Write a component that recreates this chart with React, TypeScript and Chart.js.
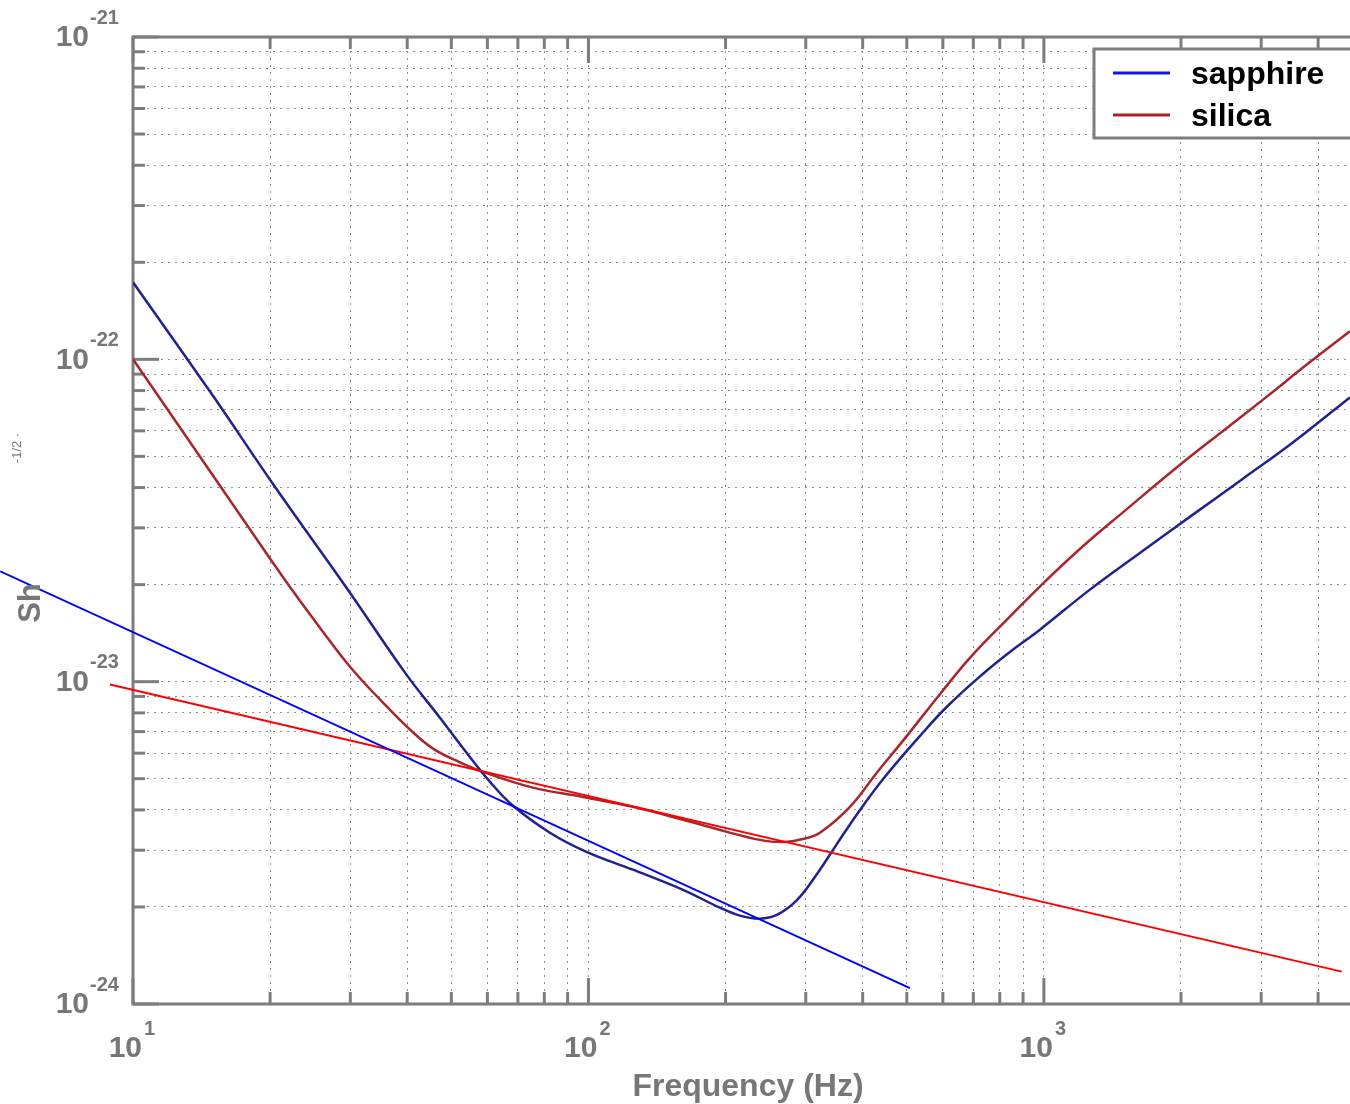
import React, { useEffect, useRef } from "react";
import { Chart, registerables } from "chart.js";

Chart.register(...registerables);

// ---- data ----
const SAPPHIRE_FREQ = [10, 14.8, 20.6, 29.4, 39.7, 47.2, 53.8, 60.8, 68.3, 82.3, 99.3, 125.2, 161.3, 191.5, 215.1, 237.9, 259.3, 286.9, 317.5, 351.3, 394.7, 447.7, 537, 615.5, 731, 837.9, 980, 1262, 1633, 2113, 2721, 3521, 4697];
const SAPPHIRE_VAL = [1.734e-22, 7.9e-23, 3.98e-23, 1.96e-23, 1.059e-23, 7.73e-24, 6.06e-24, 4.89e-24, 4.12e-24, 3.4e-24, 2.96e-24, 2.61e-24, 2.26e-24, 2.01e-24, 1.88e-24, 1.84e-24, 1.89e-24, 2.1e-24, 2.53e-24, 3.14e-24, 4.0e-24, 5.07e-24, 6.84e-24, 8.42e-24, 1.051e-23, 1.23e-23, 1.45e-23, 1.93e-23, 2.52e-23, 3.28e-23, 4.24e-23, 5.52e-23, 7.62e-23];

const SILICA_FREQ = [10, 13.07, 17.44, 21.68, 25.73, 29.95, 35.39, 40.57, 45.57, 52.24, 58.67, 75.52, 97.25, 125.2, 161.3, 201.4, 237.9, 267.3, 295.7, 322.3, 375.1, 429.8, 492.7, 597.2, 695, 837.9, 995, 1218, 1498, 1969, 2497, 3072, 3760, 4697];
const SILICA_VAL = [1.0e-22, 5.77e-23, 3.19e-23, 2.045e-23, 1.471e-23, 1.113e-23, 8.61e-24, 7.1e-24, 6.2e-24, 5.62e-24, 5.25e-24, 4.69e-24, 4.39e-24, 4.09e-24, 3.73e-24, 3.42e-24, 3.23e-24, 3.18e-24, 3.25e-24, 3.4e-24, 4.09e-24, 5.22e-24, 6.61e-24, 9.31e-24, 1.204e-23, 1.58e-23, 2.015e-23, 2.63e-23, 3.37e-23, 4.65e-23, 6.06e-23, 7.62e-23, 9.58e-23, 1.222e-22];

const SAPPHIRE_FIT_FREQ = [5.11, 508];
const SAPPHIRE_FIT_VAL = [2.2e-23, 1.12e-24];
const SILICA_FIT_FREQ = [8.9, 4508];
const SILICA_FIT_VAL = [9.8e-24, 1.26e-24];

const SERIES_LABELS = ["sapphire", "silica"];

const X_TICKS = [10, 20, 30, 40, 50, 60, 70, 80, 90, 100, 200, 300, 400, 500, 600, 700, 800, 900, 1000, 2000, 3000, 4000];
const X_MAJOR = [10, 100, 1000];
const X_EXP = ["1", "2", "3"];

const Y_TICKS = [
  1e-24, 2e-24, 3e-24, 4e-24, 5e-24, 6e-24, 7e-24, 8e-24, 9e-24,
  1e-23, 2e-23, 3e-23, 4e-23, 5e-23, 6e-23, 7e-23, 8e-23, 9e-23,
  1e-22, 2e-22, 3e-22, 4e-22, 5e-22, 6e-22, 7e-22, 8e-22, 9e-22,
  1e-21,
];
const Y_MAJOR = [1e-21, 1e-22, 1e-23, 1e-24];
const Y_EXP = ["-21", "-22", "-23", "-24"];

const X_MIN = 10;
const X_MAX = 4700;
const Y_MIN = 1e-24;
const Y_MAX = 1e-21;

const X_TITLE = "Frequency (Hz)";
const Y_TITLE = "Sh";
const Y_TITLE_SUB = "-1/2 ·";

// ---- styles ----
const FRAME = "#7d7d7d";
const LABEL = "#777777";
const GRID = "#8e8e8e";
const SAPPHIRE_COLOR = "#22228f";
const SILICA_COLOR = "#a8262c";
const SAPPHIRE_FIT_COLOR = "#0000ff";
const SILICA_FIT_COLOR = "#ff0000";
const LEGEND_SAPPHIRE = "#1515e0";
const LEGEND_SILICA = "#b01f2c";
const FONT = '"Liberation Sans", Arial, Helvetica, sans-serif';

const isMajor = (v: number) => Math.abs(Math.log10(v) - Math.round(Math.log10(v))) < 1e-9;

const framePlugin = {
  id: "matlabFrame",
  beforeDatasetsDraw(chart: any) {
    const { ctx, chartArea: a, scales } = chart;
    ctx.save();
    ctx.strokeStyle = FRAME;
    ctx.lineWidth = 3;
    ctx.lineCap = "butt";
    const seg = (x1: number, y1: number, x2: number, y2: number) => {
      ctx.beginPath();
      ctx.moveTo(x1, y1);
      ctx.lineTo(x2, y2);
      ctx.stroke();
    };
    X_TICKS.forEach((v) => {
      const x = scales.x.getPixelForValue(v);
      const len = isMajor(v) ? 26 : 12;
      seg(x, a.bottom, x, a.bottom - len);
      seg(x, a.top, x, a.top + len);
    });
    Y_TICKS.forEach((v) => {
      const y = scales.y.getPixelForValue(v);
      const len = isMajor(v) ? 26 : 12;
      seg(a.left, y, a.left + len, y);
    });
    ctx.beginPath();
    ctx.moveTo(a.right + 5, a.top);
    ctx.lineTo(a.left, a.top);
    ctx.lineTo(a.left, a.bottom);
    ctx.lineTo(a.right + 5, a.bottom);
    ctx.stroke();
    ctx.restore();
  },
  afterDraw(chart: any) {
    const { ctx, chartArea: a, scales } = chart;
    ctx.save();
    ctx.fillStyle = LABEL;
    // y tick labels
    Y_MAJOR.forEach((v, i) => {
      const y = scales.y.getPixelForValue(v);
      ctx.font = `bold 30px ${FONT}`;
      ctx.textAlign = "right";
      ctx.textBaseline = "middle";
      ctx.fillText("10", 89, y + 1);
      ctx.font = `bold 20px ${FONT}`;
      ctx.textAlign = "left";
      ctx.fillText(Y_EXP[i], 90, y - 19);
    });
    // x tick labels
    X_MAJOR.forEach((v, i) => {
      const x = scales.x.getPixelForValue(v);
      ctx.font = `bold 30px ${FONT}`;
      ctx.textAlign = "right";
      ctx.textBaseline = "middle";
      ctx.fillText("10", x + 9, a.bottom + 45);
      ctx.font = `bold 20px ${FONT}`;
      ctx.textAlign = "left";
      ctx.fillText(X_EXP[i], x + 11, a.bottom + 25);
    });
    // axis titles
    ctx.font = `bold 32px ${FONT}`;
    ctx.textAlign = "center";
    ctx.textBaseline = "middle";
    ctx.fillText(X_TITLE, 748, a.bottom + 83);

    ctx.save();
    ctx.translate(31, 603);
    ctx.rotate(-Math.PI / 2);
    ctx.font = `bold 31px ${FONT}`;
    ctx.fillText(Y_TITLE, 0, 0);
    ctx.restore();

    ctx.save();
    ctx.translate(17, 448);
    ctx.rotate(-Math.PI / 2);
    ctx.font = `13px ${FONT}`;
    ctx.fillText(Y_TITLE_SUB, 0, 0);
    ctx.restore();

    // legend
    const lx = 1094, ly = 49;
    ctx.fillStyle = "#ffffff";
    ctx.fillRect(lx, ly, 280, 89);
    ctx.strokeStyle = FRAME;
    ctx.lineWidth = 3;
    ctx.strokeRect(lx, ly, 280, 89);
    const rows = [
      { label: SERIES_LABELS[0], color: LEGEND_SAPPHIRE, y: 73 },
      { label: SERIES_LABELS[1], color: LEGEND_SILICA, y: 115 },
    ];
    rows.forEach((r) => {
      ctx.strokeStyle = r.color;
      ctx.lineWidth = 3;
      ctx.beginPath();
      ctx.moveTo(1113, r.y);
      ctx.lineTo(1170, r.y);
      ctx.stroke();
      ctx.fillStyle = "#000000";
      ctx.font = `bold 32px ${FONT}`;
      ctx.textAlign = "left";
      ctx.textBaseline = "middle";
      ctx.fillText(r.label, 1191, r.y + 2);
    });
    ctx.restore();
  },
};

const toPoints = (xs: number[], ys: number[]) => xs.map((x, i) => ({ x, y: ys[i] }));

export default function App() {
  const ref = useRef<HTMLCanvasElement>(null);

  useEffect(() => {
    if (!ref.current) return;
    const chart = new Chart(ref.current, {
      type: "line",
      data: {
        datasets: [
          {
            label: "sapphire fit",
            data: toPoints(SAPPHIRE_FIT_FREQ, SAPPHIRE_FIT_VAL),
            borderColor: SAPPHIRE_FIT_COLOR,
            borderWidth: 2,
            pointRadius: 0,
            clip: false as any,
            order: 1,
          },
          {
            label: "silica fit",
            data: toPoints(SILICA_FIT_FREQ, SILICA_FIT_VAL),
            borderColor: SILICA_FIT_COLOR,
            borderWidth: 2,
            pointRadius: 0,
            clip: false as any,
            order: 2,
          },
          {
            label: SERIES_LABELS[0],
            data: toPoints(SAPPHIRE_FREQ, SAPPHIRE_VAL),
            borderColor: SAPPHIRE_COLOR,
            borderWidth: 2.5,
            pointRadius: 0,
            tension: 0.4,
            order: 3,
          },
          {
            label: SERIES_LABELS[1],
            data: toPoints(SILICA_FREQ, SILICA_VAL),
            borderColor: SILICA_COLOR,
            borderWidth: 2.5,
            pointRadius: 0,
            tension: 0.4,
            order: 4,
          },
        ],
      },
      options: {
        animation: false,
        responsive: false,
        events: [],
        layout: { padding: { left: 133, top: 37, right: 0, bottom: 100 }, autoPadding: false } as any,
        plugins: { legend: { display: false }, tooltip: { enabled: false } },
        scales: {
          x: {
            type: "logarithmic",
            min: X_MIN,
            max: X_MAX,
            afterBuildTicks: (scale: any) => {
              scale.ticks = X_TICKS.map((v) => ({ value: v, major: isMajor(v) }));
            },
            ticks: { display: false },
            grid: { color: GRID, lineWidth: 1, drawTicks: false },
            border: { display: false, dash: [2, 5] },
          },
          y: {
            type: "logarithmic",
            min: Y_MIN,
            max: Y_MAX,
            afterBuildTicks: (scale: any) => {
              scale.ticks = Y_TICKS.map((v) => ({ value: v, major: isMajor(v) }));
            },
            ticks: { display: false },
            grid: { color: GRID, lineWidth: 1, drawTicks: false },
            border: { display: false, dash: [2, 5] },
          },
        },
      },
      plugins: [framePlugin],
    } as any);
    return () => chart.destroy();
  }, []);

  return (
    <div style={{ position: "absolute", left: 0, top: 0, width: 1350, height: 1104, overflow: "hidden", background: "#ffffff" }}>
      <canvas ref={ref} width={1350} height={1104} style={{ display: "block", width: 1350, height: 1104 }} />
    </div>
  );
}
